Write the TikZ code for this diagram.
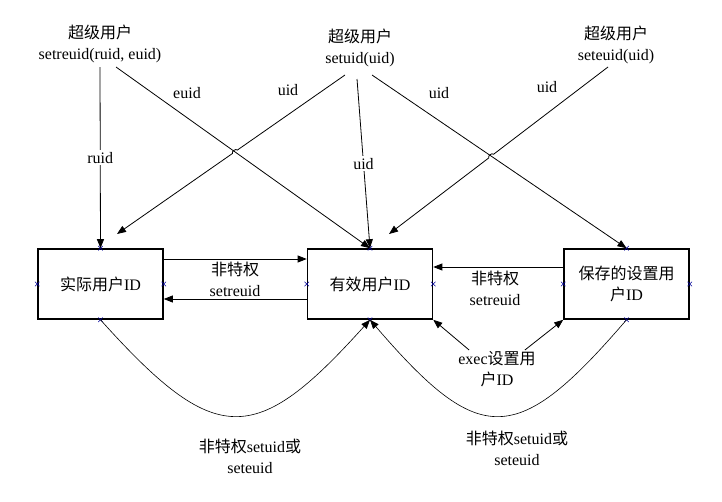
\documentclass[tikz,border=0pt]{standalone}
\usepackage{fontspec}
\setmainfont{Liberation Serif}
\newfontfamily\cjk{Noto Sans CJK SC}
\usetikzlibrary{calc, positioning}
\usetikzlibrary{arrows.meta, shapes.misc}
\tikzset{
  font=\fontsize{16}{21}\selectfont,
  % Set arrowhead
  >={Triangle[length=9pt, width=7pt]},
  % ID box
  idbox/.style={draw, line width=1.6pt, minimum width=125pt,
    minimum height=70pt, align=center, inner sep=2pt},
  % Caller of the system call
  caller/.style={align=center, inner sep=1pt},
  % Free edge label
  elabel/.style={align=center, inner sep=1pt},
  % Label sitting on a line
  onlabel/.style={fill=white, inner sep=2pt},
  % Connectors
  conn/.style={->, line width=0.8pt},
  swing/.style={conn, line width=0.6pt},
  % Connection point
  cpoint/.style={cross out, draw=blue!60!black, minimum size=4pt,
    inner sep=0pt, line width=0.5pt},
}
\begin{document}
\begin{tikzpicture}[x=1pt, y=-1pt]
  \useasboundingbox (0,0) rectangle (722,501);

  % ID boxes
  \node[idbox] (real) at (100.5,284) {{\cjk 实际用户}ID};
  \node[idbox] (eff) at (370,284) {{\cjk 有效用户}ID};
  \node[idbox] (saved) at (626.5,284) {{\cjk 保存的设置用}\\{\cjk 户}ID};
  \foreach \b in {real, eff, saved}
    \foreach \a in {north, south, east, west}
      \node[cpoint] (\b-\a) at (\b.\a) {};

  % Superuser calls
  \node[caller] (sreuid) at (100,44) {{\cjk 超级用户}\\setreuid(ruid, euid)};
  \node[caller] (suid) at (360,48) {{\cjk 超级用户}\\setuid(uid)};
  \node[caller] (seuid) at (616,45) {{\cjk 超级用户}\\seteuid(uid)};

  \coordinate (ruidtop) at (100,67);
  \coordinate (euidtop) at (116,67);
  \coordinate (uidl) at (345,75);
  \coordinate (uidm) at (357,79);
  \coordinate (uidr) at (372,75);
  \coordinate (seuidtop) at (608,67);
  \coordinate (realhit) at (117,234);
  \coordinate (effhit) at (389,234);

  \draw[conn] (ruidtop) -- node[onlabel] (ruidlbl) {ruid} (real.north);
  \draw[conn] (euidtop) -- (eff.north);
  \draw[conn] (uidm) -- node[onlabel] (uidmlbl) {uid} (eff.north);
  \draw[conn] (uidr) -- (saved.north);

  % Line hops
  \coordinate (hopl) at (intersection of euidtop--eff.north and uidl--realhit);
  \coordinate (hopr) at (intersection of uidr--saved.north and seuidtop--effhit);
  \draw[conn] (uidl) -- ($(hopl)!3pt!(uidl)$) to[bend right=90]
    ($(hopl)!3pt!(realhit)$) -- (realhit);
  \draw[conn] (seuidtop) -- ($(hopr)!3pt!(seuidtop)$) to[bend right=90]
    ($(hopr)!3pt!(effhit)$) -- (effhit);

  \node[elabel] (euidlbl) at (187,93) {euid};
  \node[elabel] (uidllbl) at (288,90) {uid};
  \node[elabel] (uidrlbl) at (439,93) {uid};
  \node[elabel] (seuidlbl) at (547,87) {uid};

  % Unprivileged setreuid
  \draw[conn] ([yshift=25pt]real.east) -- ([yshift=25pt]eff.west);
  \draw[conn] ([yshift=-15pt]eff.west) -- ([yshift=-15pt]real.east);
  \node[elabel] (npreal) at (235,279) {{\cjk 非特权}\\setreuid};
  \draw[conn] ([yshift=17pt]saved.west) -- ([yshift=17pt]eff.east);
  \node[elabel] (npsaved) at (495,288) {{\cjk 非特权}\\setreuid};

  % exec
  \node[elabel] (exec) at (497,369) {exec{\cjk 设置用}\\{\cjk 户}ID};
  \draw[conn] ([xshift=12pt]exec.north west) -- (eff.south east);
  \draw[conn] ([xshift=-12pt]exec.north east) -- (saved.south west);

  % Unprivileged setuid / seteuid
  \draw[swing] (real.south) .. controls +(115,128) and +(-115,128) .. (eff.south);
  \draw[swing] (saved.south) .. controls +(-110,128) and +(110,128) .. (eff.south);
  \node[elabel] (npl) at (250,456) {{\cjk 非特权}setuid{\cjk 或}\\seteuid};
  \node[elabel] (npr) at (517,448) {{\cjk 非特权}setuid{\cjk 或}\\seteuid};
\end{tikzpicture}
\end{document}
